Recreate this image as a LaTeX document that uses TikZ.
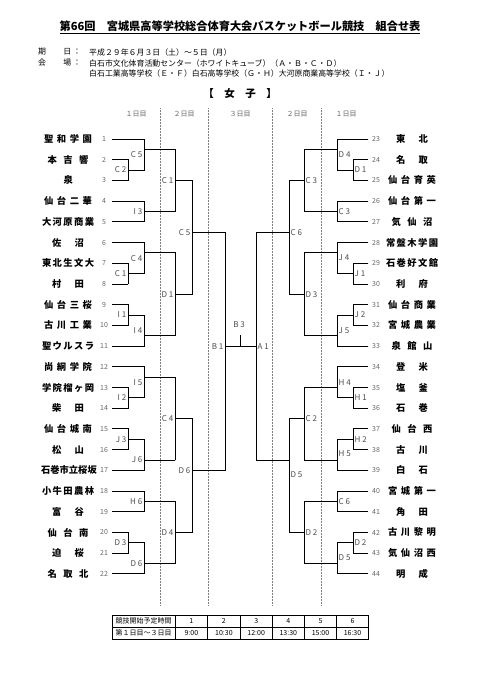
\documentclass[tikz,border=0pt]{standalone}
\usepackage{fontspec}
\setmainfont{Noto Sans CJK JP}
\usepackage{tikz}
\colorlet{numgray}{black!60}
\colorlet{dotgray}{black!50}
\colorlet{labgray}{black!70}
% y of a team slot (1 = first row)
\newcommand{\ty}[1]{139+20.71*(#1-1)}
% bracket: vertical at #1 from slot #2 to #3, output at slot #4 running to #5
\newcommand{\brk}[5]{%
  \draw[bline] (#1,{\ty{#2}}) -- (#1,{\ty{#3}});
  \draw[bline] (#1,{\ty{#4}}) -- (#5,{\ty{#4}});}
\newcommand{\gmL}[3]{\node[glabel,anchor=east] at ({#1-1.5},{\ty{#2}}) {#3};}
\newcommand{\gmR}[3]{\node[glabel,anchor=west] at ({#1+1.5},{\ty{#2}}) {#3};}
\tikzset{
  bline/.style={line width=0.9pt,line cap=rect},
  dotline/.style={densely dotted,dotgray,line width=0.5pt},
  tname/.style={inner sep=0pt,font=\bfseries\fontsize{9.3}{10}\selectfont},
  tnum/.style={inner sep=0pt,numgray,font=\fontsize{7}{8}\selectfont},
  glabel/.style={inner sep=0pt,labgray,font=\fontsize{8}{9}\selectfont},
  dayhd/.style={inner sep=0pt,numgray,font=\fontsize{7}{8}\selectfont},
  hdr/.style={inner sep=0pt,anchor=west,font=\fontsize{7.9}{9}\selectfont},
  cell/.style={inner sep=0pt,font=\fontsize{7}{8}\selectfont},
}
\begin{document}
\begin{tikzpicture}[x=1pt,y=-1pt]
\fill[white] (0,0) rectangle (481,680);
\useasboundingbox (0,0) rectangle (481,680);
% title and header
\node[inner sep=0pt,font=\bfseries\fontsize{11.2}{13}\selectfont] (title) at (240,27)
  {\underline{第66回　宮城県高等学校総合体育大会バスケットボール競技　組合せ表}};
\node[hdr] (k1) at (38,52) {\makebox[33pt][s]{期 日}};
\node[hdr] (c1) at (73,52) {：};
\node[hdr] (d1) at (89,52) {平成２９年６月３日（土）～５日（月）};
\node[hdr] (k2) at (38,63) {\makebox[33pt][s]{会 場}};
\node[hdr] (c2) at (73,63) {：};
\node[hdr] (d2) at (89,63) {白石市文化体育活動センター（ホワイトキューブ）（Ａ・Ｂ・Ｃ・Ｄ）};
\node[hdr] (d3) at (89,73) {白石工業高等学校（Ｅ・Ｆ）白石高等学校（Ｇ・Ｈ）大河原商業高等学校（Ｉ・Ｊ）};
\node[inner sep=0pt,font=\bfseries\fontsize{10.5}{12}\selectfont] (sect) at (240,94) {【　女　子　】};
% day columns
\foreach \x/\d [count=\c] in {136/１, 184/２, 240/３, 297/２, 346/１}
  \node[dayhd] (day\c) at (\x,114) {\d 日目};
\foreach \x in {160,208,272,321}
  \draw[dotline] (\x,108) -- (\x,606);
% teams, left
\foreach \i/\w/\nm in {1/48/聖 和 学 園, 2/41/本 吉 響, 3/9/泉, 4/48/仙 台 二 華,
    5/52/大 河 原 商 業, 6/32/佐 沼, 7/52/東 北 生 文 大, 8/32/村 田, 9/48/仙 台 三 桜,
    10/48/古 川 工 業, 11/52/聖 ウ ル ス ラ, 12/48/尚 絅 学 院, 13/52/学 院 榴 ヶ 岡,
    14/32/柴 田, 15/48/仙 台 城 南, 16/32/松 山, 17/54/石巻市立桜坂, 18/52/小 牛 田 農 林,
    19/32/富 谷, 20/41/仙 台 南, 21/32/迫 桜, 22/41/名 取 北}{
  \node[tname] (n\i) at (68,{\ty{\i}}) {\makebox[\w pt][s]{\nm}};
  \node[tnum] (t\i) at (104,{\ty{\i}}) {\i};
}
% teams, right
\foreach \i/\w/\nm in {23/32/東 北, 24/32/名 取, 25/48/仙 台 育 英, 26/48/仙 台 第 一,
    27/41/気 仙 沼, 28/52/常 盤 木 学 園, 29/52/石 巻 好 文 館, 30/32/利 府,
    31/48/仙 台 商 業, 32/48/宮 城 農 業, 33/41/泉 館 山, 34/32/登 米, 35/32/塩 釜,
    36/32/石 巻, 37/41/仙 台 西, 38/32/古 川, 39/32/白 石, 40/48/宮 城 第 一,
    41/32/角 田, 42/48/古 川 黎 明, 43/48/気 仙 沼 西, 44/32/明 成}{
  \node[tname] (n\i) at (412,{\ty{\i-22}}) {\makebox[\w pt][s]{\nm}};
  \node[tnum] (t\i) at (376,{\ty{\i-22}}) {\i};
}
% team lines
\foreach \i/\xe in {1/144,2/128,3/128,4/144,5/144,6/144,7/128,8/128,9/128,10/128,11/144,
    12/144,13/128,14/128,15/128,16/128,17/144,18/144,19/144,20/128,21/128,22/144}
  \draw[bline] (t\i.center) ++(8,0) -- (\xe,{\ty{\i}});
\foreach \i/\xe in {23/337,24/353,25/353,26/337,27/337,28/337,29/353,30/353,31/353,32/353,
    33/337,34/337,35/353,36/353,37/353,38/353,39/337,40/337,41/337,42/353,43/353,44/337}
  \draw[bline] (t\i.center) ++(-8,0) -- (\xe,{\ty{\i-22}});
% left, day 1
\brk{128}{2}{3}{2.5}{144}     \gmL{128}{2.5}{C 2}
\brk{144}{1}{2.5}{1.5}{175}   \gmL{144}{1.75}{C 5}
\brk{144}{4}{5}{4.5}{175}     \gmL{144}{4.5}{I 3}
\brk{128}{7}{8}{7.5}{144}     \gmL{128}{7.5}{C 1}
\brk{144}{6}{7.5}{6.5}{175}   \gmL{144}{6.75}{C 4}
\brk{128}{9}{10}{9.5}{144}    \gmL{128}{9.5}{I 1}
\brk{144}{9.5}{11}{10.5}{175} \gmL{144}{10.25}{I 4}
\brk{128}{13}{14}{13.5}{144}  \gmL{128}{13.5}{I 2}
\brk{144}{12}{13.5}{12.5}{175} \gmL{144}{12.75}{I 5}
\brk{128}{15}{16}{15.5}{144}  \gmL{128}{15.5}{J 3}
\brk{144}{15.5}{17}{16.5}{175} \gmL{144}{16.5}{J 6}
\brk{144}{18}{19}{18.5}{175}  \gmL{144}{18.5}{H 6}
\brk{128}{20}{21}{20.5}{144}  \gmL{128}{20.5}{D 3}
\brk{144}{20.5}{22}{21.5}{175} \gmL{144}{21.5}{D 6}
% left, day 2 and 3
\brk{175}{1.5}{4.5}{3}{192}    \gmL{175}{3}{C 1}
\brk{175}{6.5}{10.5}{8.5}{192} \gmL{175}{8.5}{D 1}
\brk{175}{12.5}{16.5}{14.5}{192} \gmL{175}{14.5}{C 4}
\brk{175}{18.5}{21.5}{20}{192} \gmL{175}{20}{D 4}
\brk{192}{3}{8.5}{5.5}{225}    \gmL{192}{5.5}{C 5}
\brk{192}{14.5}{20}{17}{225}   \gmL{192}{17}{D 6}
\brk{225}{5.5}{17}{11}{256}    \gmL{225}{11}{B 1}
% right, day 1
\brk{353}{2}{3}{2.5}{337}     \gmR{353}{2.5}{D 1}
\brk{337}{1}{2.5}{1.5}{304}   \gmR{337}{1.75}{D 4}
\brk{337}{4}{5}{4.5}{304}     \gmR{337}{4.5}{C 3}
\brk{353}{7}{8}{7.5}{337}     \gmR{353}{7.5}{J 1}
\brk{337}{6}{7.5}{6.5}{304}   \gmR{337}{6.75}{J 4}
\brk{353}{9}{10}{9.5}{337}    \gmR{353}{9.5}{J 2}
\brk{337}{9.5}{11}{10.5}{304} \gmR{337}{10.25}{J 5}
\brk{353}{13}{14}{13.5}{337}  \gmR{353}{13.5}{H 1}
\brk{337}{12}{13.5}{13}{304}  \gmR{337}{12.75}{H 4}
\brk{353}{15}{16}{15.5}{337}  \gmR{353}{15.5}{H 2}
\brk{337}{15.5}{17}{16.5}{304} \gmR{337}{16.2}{H 5}
\brk{337}{18}{19}{18.5}{304}  \gmR{337}{18.5}{C 6}
\brk{353}{20}{21}{20.5}{337}  \gmR{353}{20.5}{D 2}
\brk{337}{20.5}{22}{21.5}{304} \gmR{337}{21.2}{D 5}
% right, day 2 and 3
\brk{304}{1.5}{4.5}{3}{289}    \gmR{304}{3}{C 3}
\brk{304}{6.5}{10.5}{8.5}{289} \gmR{304}{8.5}{D 3}
\brk{304}{13}{16.5}{14.5}{289} \gmR{304}{14.5}{C 2}
\brk{304}{18.5}{21.5}{20}{289} \gmR{304}{20}{D 2}
\brk{289}{3}{8.5}{5.5}{256}    \gmR{289}{5.5}{C 6}
\brk{289}{14.5}{20}{16.5}{256} \gmR{289}{17.2}{D 5}
\draw[bline] (256,{\ty{5.5}}) -- (256,{\ty{16.5}}); \gmR{256}{11}{A 1}
% final
\draw[bline] (240,{\ty{11}}) -- ++(0,-11);
\node[glabel] (fin) at (239,325) {B 3};
% start times
\draw[line width=1pt] (112,615) rectangle (368,639);
\draw[line width=0.5pt] (112,627) -- (368,627);
\draw[line width=0.8pt] (175,615) -- (175,639);
\foreach \x in {207.7,240,272.3,304.3,336.7}
  \draw[line width=0.5pt] (\x,615) -- (\x,639);
\node[cell] (h0) at (143.5,621) {競技開始予定時間};
\node[cell] (v0) at (143.5,633) {第１日目～３日目};
\foreach \cx/\a/\b in {191.4/1/9:00, 223.9/2/10:30, 256.2/3/12:00, 288.3/4/13:30,
    320.5/5/15:00, 352.5/6/16:30}{
  \node[cell] (h\a) at (\cx,621) {\a};
  \node[cell] (v\a) at (\cx,633) {\b};
}
\end{tikzpicture}
\end{document}
